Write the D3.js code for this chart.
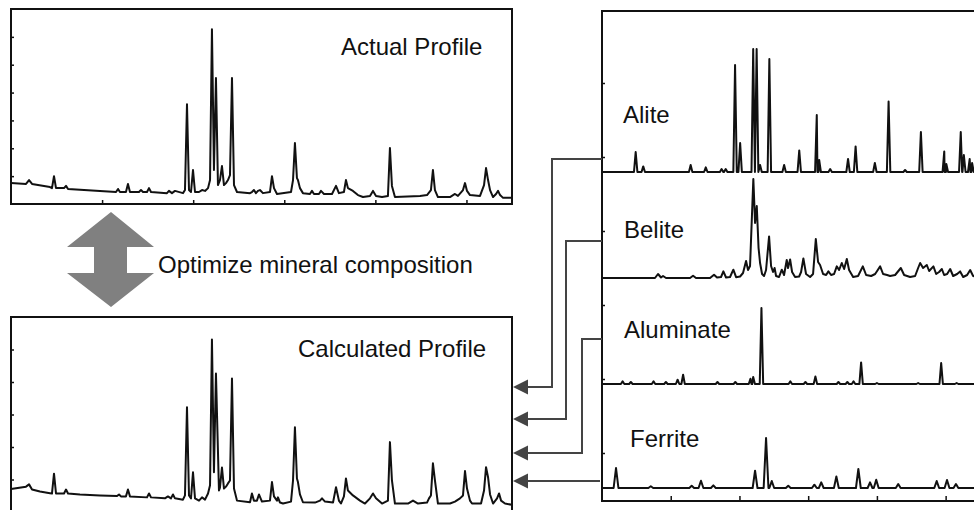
<!DOCTYPE html>
<html>
<head>
<meta charset="utf-8">
<script src="https://cdn.jsdelivr.net/npm/d3@7"></script>
<style>
  body { margin: 0; background: #fff; }
  svg { display: block; }
  text { font-family: Arial, "Liberation Sans", sans-serif; fill: #111; }
</style>
</head>
<body>
<svg id="chart" width="974" height="510"></svg>
<script>
// measured XRD traces, [2theta, intensity]
const actualProfile = [
  [10.0,0.75],[11.65,0.72],[11.98,0.86],[12.31,0.72],[14.28,0.61],[14.5,0.57],[14.72,1.0],[14.94,0.57],
  [15.82,0.57],[16.04,0.65],[16.26,0.54],[19.77,0.47],[21.53,0.43],[21.75,0.54],[21.96,0.43],[22.62,0.43],
  [22.84,0.72],[23.06,0.43],[24.05,0.43],[24.27,0.5],[24.49,0.43],[24.93,0.43],[25.15,0.57],[25.37,0.43],
  [27.12,0.39],[27.34,0.47],[27.67,0.39],[28.0,0.47],[28.88,0.39],[29.1,0.5],[29.32,3.58],[29.54,0.5],
  [29.76,0.43],[29.98,1.22],[30.2,0.43],[30.64,0.43],[30.97,0.5],[31.3,0.47],[31.63,0.57],[31.85,0.86],
  [32.06,6.27],[32.28,1.22],[32.5,4.52],[32.72,0.68],[32.94,0.86],[33.16,1.36],[33.38,0.68],[33.6,0.75],
  [33.82,0.86],[34.04,1.04],[34.26,4.52],[34.48,0.68],[34.81,0.43],[36.24,0.39],[36.45,0.43],[36.67,0.5],
  [36.89,0.39],[37.11,0.47],[37.33,0.5],[37.66,0.39],[38.43,0.43],[38.65,1.0],[38.87,0.57],[39.2,0.36],
  [40.74,0.43],[40.96,0.86],[41.17,2.19],[41.39,0.93],[41.5,0.86],[41.72,0.57],[42.05,0.39],[42.82,0.36],
  [43.04,0.47],[43.26,0.36],[43.81,0.36],[44.03,0.47],[44.36,0.36],[45.24,0.36],[45.68,0.65],[46.0,0.39],
  [46.55,0.43],[46.77,0.86],[46.99,0.57],[47.54,0.47],[48.09,0.32],[48.64,0.25],[49.41,0.29],[49.74,0.47],
  [50.07,0.29],[50.73,0.25],[51.38,0.29],[51.6,2.01],[51.82,0.65],[52.15,0.25],[54.9,0.29],[55.67,0.32],
  [56.1,0.5],[56.32,1.22],[56.54,0.5],[56.87,0.25],[58.19,0.25],[58.74,0.36],[59.07,0.29],[59.62,0.5],
  [59.84,0.75],[60.06,0.47],[60.39,0.32],[61.49,0.29],[61.93,0.68],[62.15,1.29],[62.37,0.86],[62.59,0.5],
  [62.92,0.25],[63.25,0.36],[63.47,0.47],[63.69,0.32],[64.02,0.22],[65.0,0.22]
];

const calculatedProfile = [
  [10.0,0.71],[11.65,0.78],[11.98,0.85],[12.31,0.69],[13.18,0.63],[14.28,0.58],[14.5,0.57],[14.72,1.18],
  [14.94,0.57],[15.82,0.57],[16.04,0.69],[16.26,0.57],[17.57,0.54],[19.77,0.51],[21.64,0.49],[21.86,0.54],
  [22.07,0.48],[22.62,0.48],[22.84,0.69],[23.06,0.48],[24.93,0.45],[25.15,0.57],[25.37,0.45],[26.9,0.42],
  [27.23,0.48],[27.56,0.42],[27.78,0.54],[28.0,0.42],[28.88,0.38],[29.1,0.51],[29.32,3.22],[29.54,0.51],
  [29.76,0.42],[29.98,1.22],[30.2,0.42],[30.64,0.35],[30.97,0.45],[31.3,0.38],[31.63,0.57],[31.85,0.82],
  [32.06,5.31],[32.28,1.22],[32.5,4.26],[32.83,0.66],[32.94,0.75],[33.16,1.37],[33.38,0.72],[33.6,0.78],
  [33.82,0.88],[34.04,0.97],[34.26,4.11],[34.48,0.72],[34.81,0.35],[36.24,0.3],[36.45,0.57],[36.67,0.35],
  [37.0,0.35],[37.22,0.54],[37.55,0.32],[38.43,0.35],[38.65,0.92],[38.87,0.48],[39.2,0.35],[39.31,0.45],
  [39.53,0.29],[39.86,0.26],[40.74,0.32],[40.96,0.97],[41.17,2.61],[41.39,1.03],[41.5,0.92],[41.72,0.54],
  [42.05,0.3],[43.37,0.29],[43.92,0.35],[44.14,0.42],[44.47,0.32],[45.35,0.29],[45.68,0.76],[46.0,0.35],
  [46.22,0.26],[46.55,0.48],[46.77,1.03],[46.99,0.66],[47.54,0.51],[48.31,0.35],[48.86,0.26],[49.41,0.42],
  [49.74,0.57],[50.07,0.42],[50.73,0.26],[51.38,0.35],[51.6,2.15],[51.82,0.97],[52.15,0.26],[53.58,0.26],
  [54.13,0.35],[54.68,0.26],[55.67,0.29],[55.89,0.42],[56.1,0.51],[56.32,1.5],[56.54,0.97],[56.87,0.26],
  [58.19,0.26],[58.74,0.32],[59.29,0.42],[59.62,0.51],[59.84,1.26],[60.06,0.72],[60.39,0.35],[60.61,0.26],
  [61.6,0.26],[61.93,0.66],[62.15,1.38],[62.37,1.07],[62.59,0.54],[62.92,0.26],[63.36,0.42],[63.58,0.57],
  [63.8,0.35],[64.23,0.26],[65.0,0.22]
];

// single-phase reference patterns: peak lists [2theta, intensity]
const alitePeaks = [
  [14.9,20],[16.0,5.6],[22.9,7],[25.1,4.6],[27.4,3],[28.0,3],[29.36,107],[30.1,29],[32.0,123],[32.5,123],
  [33.0,7],[34.35,113],[36.5,7],[38.7,21.6],[41.25,57],[41.6,12],[43.2,3],[45.8,13],[46.9,25.6],[49.7,9],
  [51.7,70.6],[54.1,2],[56.4,40],[59.8,20.6],[60.1,8],[62.2,40],[62.65,17],[63.5,13],[63.85,9]
];

const aluminatePeaks = [
  [13.0,2.6],[14.2,2],[17.5,2.6],[19.3,2],[21.0,4.3],[21.8,9.3],[26.8,2],[29.4,2],[31.6,5.3],[32.0,7],
  [33.2,76],[37.4,2.6],[39.6,2],[41.05,7.6],[44.4,2],[45.7,2],[46.6,2.6],[47.7,21.6],[50.0,1],[56.0,1],
  [59.35,21],[61.6,1]
];

const ferritePeaks = [
  [12.04,20],[17.1,1.7],[23.05,2.3],[24.4,7.3],[26.2,2.6],[32.27,17.3],[33.87,50],[34.7,7],[37.1,2.3],
  [40.9,3.3],[41.9,5.6],[44.1,11.6],[47.3,19],[49.0,5.6],[49.9,8.3],[53.1,4],[58.7,7],[60.2,8],[61.5,4]
];

// belite has broad overlapping reflections, traced directly
const beliteProfile = [
  [10.0,0],[17.71,0],[18.15,4],[18.59,0.5],[18.88,2],[19.32,0],[22.81,0],[23.25,2.3],[23.68,0],[25.72,0],
  [26.3,3.3],[26.74,0.5],[27.32,1],[27.66,6.6],[28.05,0.5],[28.63,1],[29.11,8.3],[29.51,0.8],[30.09,1.5],
  [30.52,5],[30.96,17],[31.25,8],[31.54,12],[32.02,99],[32.27,55],[32.52,72],[32.78,30],[33.0,15],
  [33.29,4],[33.58,2],[33.87,8],[34.31,41.6],[34.6,12],[34.89,6],[35.11,10],[35.33,2],[35.76,1],
  [36.16,8.3],[36.49,3],[36.88,18],[37.07,10],[37.37,18.6],[37.66,6],[38.09,1],[38.68,1.5],[38.97,6],
  [39.3,19.6],[39.69,4],[40.28,1],[40.71,4],[41.11,39],[41.44,16],[41.73,13],[42.17,4],[42.61,3],
  [42.94,6.6],[43.33,3],[43.77,4],[44.16,11.6],[44.5,8],[44.89,15],[45.23,9],[45.62,19],[45.95,8],
  [46.54,1],[47.26,2],[47.95,11.6],[48.43,3],[49.16,2],[49.74,4],[50.03,7],[50.47,11.6],[50.9,4],
  [51.48,3],[51.92,2],[52.65,3],[53.48,10],[53.96,3],[54.83,1],[55.56,2],[56.0,10],[56.29,15],[56.72,10],
  [57.26,13],[57.6,7],[58.22,11.6],[58.62,4],[59.05,6],[59.45,9],[59.78,3],[60.22,4],[60.66,9],[61.09,2],
  [61.67,4],[62.11,6.6],[62.55,1],[63.13,3],[63.57,8],[64.0,2],[65.0,1]
];

const phaseNames = ['Alite', 'Belite', 'Aluminate', 'Ferrite'];
const phaseOffsets = [281, 175, 69, -35];
const twoThetaTicks = [20, 30, 40, 50, 60];
const actualTicks = [1, 2, 3, 4, 5, 6];
const calcTicks = [1, 2, 3, 4, 5];
const phaseTicks = [0, 74, 148, 222, 296, 370];

const svg = d3.select('svg#chart');
const ink = '#111';
const connector = '#444';

const xL = d3.scaleLinear().domain([10, 65]).range([11, 512]);
const yActual = d3.scaleLinear().domain([0, 7]).range([204, 9]);
const yCalc = d3.scaleLinear().domain([0, 6]).range([512, 317]);
const xR = d3.scaleLinear().domain([10, 65]).range([602, 980]);
const yR = d3.scaleLinear().domain([-48, 442]).range([501, 11]);

function peaksToTrace(peaks, halfWidth) {
  const pts = [[10, 0]];
  peaks.forEach(p => {
    pts.push([p[0] - halfWidth, 0], [p[0], p[1]], [p[0] + halfWidth, 0]);
  });
  pts.push([65, 0]);
  return pts;
}

function drawAxis(g, axis, tx, ty) {
  const a = g.append('g').attr('transform', 'translate(' + tx + ',' + ty + ')').call(axis);
  a.select('.domain').remove();
  a.selectAll('line').attr('stroke', ink).attr('stroke-width', 1.5);
}

// ---- left panels ----
function leftPanel(data, yScale, yTicks, xTicks, label, labelX, labelY, top, bottom) {
  const g = svg.append('g');
  const line = d3.line().x(d => xL(d[0])).y(d => yScale(d[1]));
  g.append('path').datum(data)
    .attr('d', line)
    .attr('fill', 'none').attr('stroke', ink)
    .attr('stroke-width', 2).attr('stroke-linejoin', 'round');
  drawAxis(g, d3.axisBottom(xL).tickValues(xTicks).tickSize(-4).tickFormat(''), 0, bottom);
  drawAxis(g, d3.axisLeft(yScale).tickValues(yTicks).tickSize(-3).tickFormat(''), 11, 0);
  g.append('rect')
    .attr('x', 11).attr('y', top).attr('width', 501).attr('height', bottom - top)
    .attr('fill', 'none').attr('stroke', ink).attr('stroke-width', 2);
  g.append('text').attr('x', labelX).attr('y', labelY)
    .attr('font-size', 24).text(label);
}

leftPanel(actualProfile, yActual, actualTicks, twoThetaTicks, 'Actual Profile', 341, 55, 9, 204);
leftPanel(calculatedProfile, yCalc, calcTicks, [], 'Calculated Profile', 298, 357, 317, 512);

// ---- double arrow ----
svg.append('polygon')
  .attr('points', [[111,212],[154,247],[127,247],[127,273],[154,273],[111,307],[67,273],[94,273],[94,247],[67,247]].join(' '))
  .attr('fill', '#808080');
svg.append('text').attr('x', 158).attr('y', 273)
  .attr('font-size', 24).text('Optimize mineral composition');

// ---- right panel: phases ----
const gR = svg.append('g');
const phaseTraces = [
  peaksToTrace(alitePeaks, 0.25),
  beliteProfile,
  peaksToTrace(aluminatePeaks, 0.25),
  peaksToTrace(ferritePeaks, 0.35)
];
phaseTraces.forEach((trace, i) => {
  const line = d3.line().x(d => xR(d[0])).y(d => yR(d[1] + phaseOffsets[i]));
  gR.append('path').datum(trace.slice().sort((a, b) => a[0] - b[0]))
    .attr('d', line)
    .attr('fill', 'none').attr('stroke', ink)
    .attr('stroke-width', 2).attr('stroke-linejoin', 'round');
});
drawAxis(gR, d3.axisBottom(xR).tickValues(twoThetaTicks).tickSize(-5).tickFormat(''), 0, 501);
drawAxis(gR, d3.axisLeft(yR).tickValues(phaseTicks).tickSize(-3).tickFormat(''), 602, 0);
gR.append('path')
  .attr('d', 'M980,11H602V501H980')
  .attr('fill', 'none').attr('stroke', ink).attr('stroke-width', 2);

const labelPos = [[623, 123], [624, 238], [624, 338], [630, 447]];
phaseNames.forEach((name, i) => {
  gR.append('text').attr('x', labelPos[i][0]).attr('y', labelPos[i][1])
    .attr('font-size', 24).text(name);
});

// ---- connectors from each phase to the calculated profile ----
const links = [
  [[602,159],[552,159],[552,387],[526,387]],
  [[602,241],[566,241],[566,419],[526,419]],
  [[602,339],[582,339],[582,453],[526,453]],
  [[600,481],[526,481]]
];
links.forEach(pts => {
  svg.append('path')
    .attr('d', d3.line()(pts))
    .attr('fill', 'none').attr('stroke', connector).attr('stroke-width', 2);
  const y = pts[pts.length - 1][1];
  svg.append('polygon')
    .attr('points', [[513, y], [528, y - 7.5], [528, y + 7.5]].join(' '))
    .attr('fill', connector);
});
</script>
</body>
</html>
